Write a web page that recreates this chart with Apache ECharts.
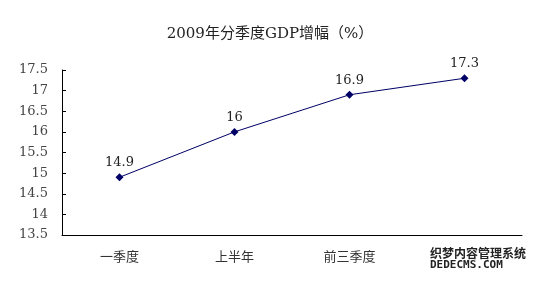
<!DOCTYPE html>
<html>
<head>
<meta charset="utf-8">
<script src="https://cdn.jsdelivr.net/npm/echarts@6/dist/echarts.min.js"></script>
<style>
  html, body { margin: 0; padding: 0; background: #fff; }
  #main { width: 540px; height: 281px; }
</style>
</head>
<body>
<div id="main"></div>
<script>
var quarters = ['一季度', '上半年', '前三季度', '全年'];
var gdpGrowth = [14.9, 16, 16.9, 17.3];
var yTicks = [13.5, 14, 14.5, 15, 15.5, 16, 16.5, 17, 17.5];

var chart = echarts.init(document.getElementById('main'));

var option = {
  backgroundColor: '#fff',
  animation: false,
  title: {
    text: '2009年分季度GDP增幅（%）',
    left: 'center',
    top: 22,
    textStyle: {
      fontSize: 15,
      fontWeight: 'normal',
      color: '#222',
      fontFamily: '"DejaVu Serif", "Noto Sans CJK SC", serif'
    }
  },
  grid: {
    left: 62,
    right: 18,
    top: 70,
    bottom: 46
  },
  xAxis: {
    type: 'category',
    data: quarters,
    boundaryGap: true,
    axisLine: { lineStyle: { color: '#000', width: 1 } },
    axisTick: { inside: true, length: 4, lineStyle: { color: '#000' } },
    axisLabel: {
      margin: 15,
      fontSize: 13,
      color: '#333',
      fontFamily: '"Noto Sans CJK SC", sans-serif'
    },
    splitLine: { show: false }
  },
  yAxis: {
    type: 'value',
    min: yTicks[0],
    max: yTicks[yTicks.length - 1],
    interval: 0.5,
    axisLine: { show: true, lineStyle: { color: '#000', width: 1 } },
    axisTick: { show: true, inside: true, length: 4, lineStyle: { color: '#000' } },
    axisLabel: {
      margin: 14,
      fontSize: 13,
      color: '#444',
      fontFamily: '"DejaVu Serif", serif'
    },
    splitLine: { show: false }
  },
  series: [
    {
      type: 'line',
      data: gdpGrowth,
      symbol: 'diamond',
      symbolSize: 8,
      lineStyle: { color: '#000066', width: 1 },
      itemStyle: { color: '#000066' },
      label: {
        show: true,
        position: 'top',
        distance: 4,
        fontSize: 13,
        color: '#222',
        fontFamily: '"DejaVu Serif", serif'
      }
    }
  ],
  // watermark in the bottom-right corner, it hides the last category label
  graphic: [
    {
      type: 'rect',
      left: 424,
      top: 244,
      z: 100,
      shape: { width: 110, height: 30 },
      style: { fill: '#fff' }
    },
    {
      type: 'text',
      left: 430,
      top: 247,
      z: 101,
      style: {
        text: '织梦内容管理系统',
        fontSize: 12,
        fontWeight: 'bold',
        fill: '#222',
        fontFamily: '"Noto Sans CJK SC", sans-serif'
      }
    },
    {
      type: 'text',
      left: 430,
      top: 260,
      z: 101,
      style: {
        text: 'DEDECMS.COM',
        fontSize: 11,
        fontWeight: 'bold',
        fill: '#222',
        fontFamily: '"DejaVu Sans Mono", monospace'
      }
    }
  ]
};

chart.setOption(option);
</script>
</body>
</html>
